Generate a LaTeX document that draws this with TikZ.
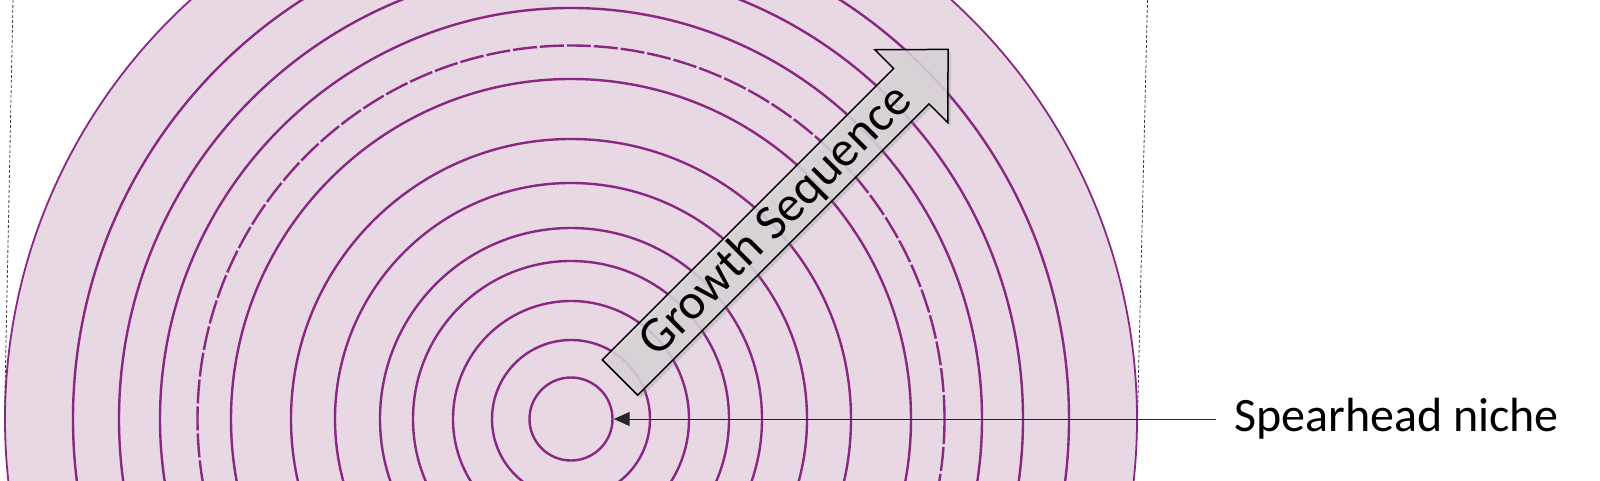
\documentclass[tikz,border=0pt]{standalone}
\usepackage{fontspec}
\setmainfont{Carlito}
\usepackage{tikz}
\usetikzlibrary{arrows.meta,shadows}
\definecolor{ringpurple}{RGB}{137,40,130}
\definecolor{ringfill}{RGB}{232,216,227}
\definecolor{arrowgray}{RGB}{218,213,218}

\begin{document}
\begin{tikzpicture}[x=1pt,y=1pt,
  ring/.style={draw=ringpurple,line width=2.4pt},
  guide/.style={draw=black!75,line width=0.8pt,dash pattern=on 3pt off 2pt},
  growth/.style={draw=black,line width=1.5pt,fill=arrowgray,fill opacity=0.85,
    drop shadow={shadow xshift=3pt,shadow yshift=-3pt,opacity=0.25}},
  pointer/.style={draw=black!85,line width=1pt,-{Triangle[length=16pt,width=14pt]}},
  every node/.style={font=\fontsize{48pt}{56pt}\selectfont}]
  \useasboundingbox (0,0) rectangle (1600,480);
  \coordinate (O) at (571,61);
  % rings
  \begin{scope}
    \clip (0,0) rectangle (1600,480);
    \fill[ringfill] (O) circle (566);
    \foreach \r in {79,118,158,191,236,280,340,411,452,498}
      \draw[ring] (O) circle (\r);
    \draw[ring,dash pattern=on 24pt off 3pt] (O) circle (373.5);
    \draw[ring,line width=1.8pt] (O) circle (566);
  \end{scope}
  \node[ring,circle,minimum size=83pt,inner sep=0pt] (spearhead) at (O) {};
  % guides
  \coordinate (GL1) at (13,480);
  \coordinate (GL2) at (4.5,63);
  \coordinate (GR1) at (1147.5,480);
  \coordinate (GR2) at (1137.5,63);
  \draw[guide] (GL1) -- (GL2);
  \draw[guide] (GR1) -- (GR2);
  % growth arrow
  \begin{scope}[shift={(620,102.5)},rotate=45]
    \draw[growth] (0,-25) -- (412,-25) -- (412,-51.5) -- (464,0)
      -- (412,51.5) -- (412,25) -- (0,25) -- cycle;
    \node[rotate=45,font=\fontsize{50pt}{58pt}\selectfont] (growthlabel) at (221,0) {Growth Sequence};
  \end{scope}
  % label
  \node[anchor=west,inner xsep=18pt] (niche) at (1216,61) {Spearhead niche};
  \draw[pointer] (niche.west) -- (spearhead.east);
\end{tikzpicture}
\end{document}
